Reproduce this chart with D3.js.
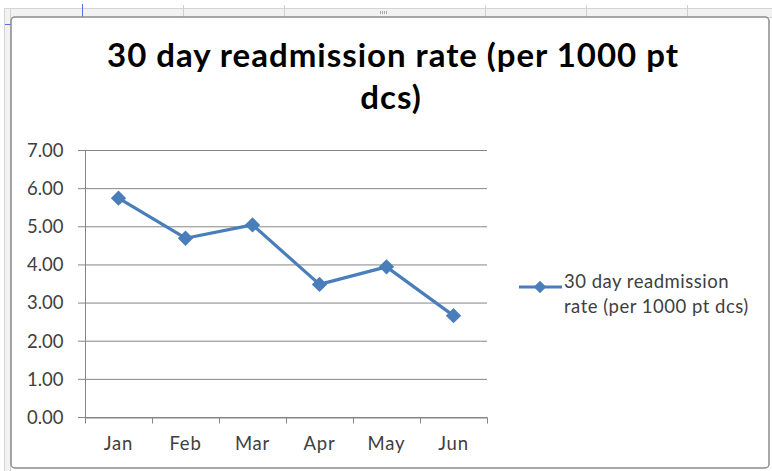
<!DOCTYPE html>
<html>
<head>
<meta charset="utf-8">
<script src="https://cdn.jsdelivr.net/npm/d3@7"></script>
<style>
  body { margin: 0; background: #fff; }
  svg { display: block; font-family: Lato, "Open Sans", sans-serif; }
</style>
</head>
<body>
<div id="chart"></div>
<script>
const months = ["Jan", "Feb", "Mar", "Apr", "May", "Jun"];
const rates = [5.75, 4.70, 5.05, 3.49, 3.95, 2.67];
const yTicks = [0, 1, 2, 3, 4, 5, 6, 7];
const titleLines = ["30 day readmission rate (per 1000 pt", "dcs)"];
const legendLines = ["30 day readmission", "rate (per 1000 pt dcs)"];

const width = 772;
const height = 471;
const blue = "#4a7ebb";
const gridColor = "#868686";
const labelColor = "#404040";

const svg = d3.select("#chart")
    .append("svg")
    .attr("width", width)
    .attr("height", height);

// excel frame bits
svg.append("rect")
    .attr("x", 4.5).attr("y", 8.5).attr("width", 768).attr("height", 9)
    .attr("fill", "#f2f2f2").attr("stroke", "#d4d4d4");
svg.append("rect")
    .attr("x", 4.5).attr("y", 8.5).attr("width", 6).attr("height", 464)
    .attr("fill", "#f2f2f2").attr("stroke", "#d4d4d4");
[183, 284, 485, 586, 687].forEach(xp => {
    svg.append("line")
        .attr("x1", xp + 0.5).attr("x2", xp + 0.5).attr("y1", 5).attr("y2", 17)
        .attr("stroke", "#d0d0d0");
});
[380, 382, 384, 386].forEach(xp => {
    svg.append("rect")
        .attr("x", xp).attr("y", 11).attr("width", 1).attr("height", 3)
        .attr("fill", "#aaa");
});
svg.append("line")
    .attr("x1", 82.5).attr("x2", 82.5).attr("y1", 4).attr("y2", 17)
    .attr("stroke", "#5a6ee6");
svg.append("line")
    .attr("x1", 5).attr("x2", 11).attr("y1", 24.5).attr("y2", 24.5)
    .attr("stroke", "#5a6ee6");
svg.append("rect")
    .attr("x", 11).attr("y", 17).attr("width", 758).attr("height", 451)
    .attr("rx", 4)
    .attr("fill", "#fff").attr("stroke", "#8c8c8c").attr("stroke-width", 1.5);

const x = d3.scaleBand()
    .domain(months)
    .range([85, 487]);

const y = d3.scaleLinear()
    .domain([0, 7])
    .range([417.5, 150.5]);

// gridlines
svg.append("g")
    .selectAll("line")
    .data(yTicks)
    .enter()
    .append("line")
    .attr("x1", 78)
    .attr("x2", 487)
    .attr("y1", d => y(d))
    .attr("y2", d => y(d))
    .attr("stroke", gridColor)
    .attr("stroke-width", 1);

// y axis
svg.append("g")
    .attr("transform", "translate(85.5,0)")
    .call(d3.axisLeft(y).tickValues(yTicks).tickFormat(d3.format(".2f")).tickSize(0).tickPadding(22))
    .call(g => g.select(".domain").attr("stroke", gridColor).attr("d", `M0,${y(7)}V${y(0)}`))
    .call(g => g.selectAll("text")
        .attr("fill", labelColor)
        .style("font-size", "18.5px")
        .style("font-family", "Lato, 'Open Sans', sans-serif"));

// x axis
svg.append("g")
    .attr("transform", `translate(0,${y(0)})`)
    .call(d3.axisBottom(x).tickSize(0).tickPadding(19.5))
    .call(g => g.select(".domain").attr("stroke", gridColor))
    .call(g => g.selectAll("text")
        .attr("fill", labelColor)
        .style("font-size", "18.5px")
        .style("letter-spacing", "0.8px")
        .style("font-family", "Lato, 'Open Sans', sans-serif"));

const xTickPos = months.map(m => x(m)).concat([x.range()[1]]);
svg.append("g")
    .selectAll("line")
    .data(xTickPos)
    .enter()
    .append("line")
    .attr("x1", d => Math.round(d) + 0.5)
    .attr("x2", d => Math.round(d) + 0.5)
    .attr("y1", y(0))
    .attr("y2", y(0) + 6)
    .attr("stroke", gridColor);

// series
const points = months.map((m, i) => ({ m: m, v: rates[i] }));
const line = d3.line()
    .x(d => x(d.m) + x.bandwidth() / 2)
    .y(d => y(d.v));

svg.append("path")
    .datum(points)
    .attr("d", line)
    .attr("fill", "none")
    .attr("stroke", blue)
    .attr("stroke-width", 3.2)
    .attr("stroke-linejoin", "round");

const diamond = d3.symbol().type(d3.symbolDiamond2).size(150);
svg.append("g")
    .selectAll("path")
    .data(points)
    .enter()
    .append("path")
    .attr("d", diamond)
    .attr("transform", d => `translate(${x(d.m) + x.bandwidth() / 2},${y(d.v)})`)
    .attr("fill", blue);

// title (letter spacing fitted so the first line spans like the original)
const title = svg.append("g")
    .selectAll("text")
    .data(titleLines)
    .enter()
    .append("text")
    .attr("x", (d, i) => i === 0 ? 393 : 391)
    .attr("y", (d, i) => 67 + i * 42)
    .attr("text-anchor", "middle")
    .attr("fill", "#000")
    .style("font-size", "33px")
    .style("font-weight", "bold")
    .text(d => d);

const firstLine = title.nodes()[0];
const natural = firstLine.getComputedTextLength();
const spacing = Math.max(0, (572 - natural) / titleLines[0].length);
title.style("letter-spacing", `${spacing}px`);

// legend
svg.append("line")
    .attr("x1", 519).attr("x2", 562)
    .attr("y1", 287).attr("y2", 287)
    .attr("stroke", blue).attr("stroke-width", 3);
svg.append("path")
    .attr("d", d3.symbol().type(d3.symbolDiamond2).size(100))
    .attr("transform", "translate(540,287)")
    .attr("fill", blue);
svg.append("g")
    .selectAll("text")
    .data(legendLines)
    .enter()
    .append("text")
    .attr("x", 564)
    .attr("y", (d, i) => 288 + i * 25)
    .attr("fill", labelColor)
    .style("font-size", "18.5px")
    .style("letter-spacing", "0.5px")
    .text(d => d);
</script>
</body>
</html>
